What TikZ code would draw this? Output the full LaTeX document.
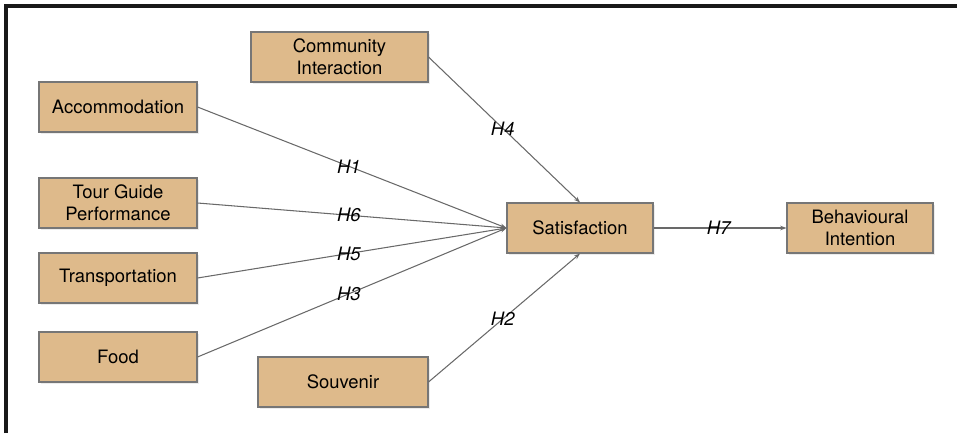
\documentclass[tikz,border=0pt]{standalone}
\usepackage{fontspec}
\setmainfont{TeX Gyre Heros}
\usepackage{tikz}
\usetikzlibrary{arrows.meta,shadows}
\definecolor{boxfill}{RGB}{222,186,139}
\definecolor{boxline}{RGB}{118,118,118}
\definecolor{linkline}{RGB}{105,105,105}

\begin{document}
\begin{tikzpicture}[x=0.02cm,y=-0.02cm,
  factor/.style={draw=boxline,fill=boxfill,line width=0.6pt,minimum height=1cm,
    align=center,font=\fontsize{10.5}{12.5}\selectfont,
    drop shadow={opacity=0.15,shadow xshift=1pt,shadow yshift=-1pt}},
  link/.style={draw=linkline,line width=0.6pt,-{Stealth[length=3.5pt,width=2.5pt]}},
  hyp/.style={pos=0.49,font=\fontsize{10.5}{12.5}\selectfont\itshape,inner sep=0pt}]
\useasboundingbox (0,0) rectangle (957,433);
\draw[line width=2.3pt,black!90] (6,433) -- (6,6) -- (957,6);
% antecedents
\node[factor,minimum width=3.54cm] (comm) at (339.5,57) {Community\\Interaction};
\node[factor,minimum width=3.16cm] (acc) at (118,107) {Accommodation};
\node[factor,minimum width=3.16cm] (tour) at (118,203) {Tour Guide\\Performance};
\node[factor,minimum width=3.16cm] (trans) at (118,278) {Transportation};
\node[factor,minimum width=3.16cm] (food) at (118,357) {Food};
\node[factor,minimum width=3.4cm] (souv) at (343,382) {Souvenir};
% outcomes
\node[factor,minimum width=2.92cm] (sat) at (580,228) {Satisfaction};
\node[factor,minimum width=2.92cm] (beh) at (860,228) {Behavioural\\Intention};
% hypotheses
\draw[link] (acc.east) -- node[hyp] (h1) {H1} (sat.west);
\draw[link] (tour.east) -- node[hyp] (h6) {H6} (sat.west);
\draw[link] (trans.east) -- node[hyp] (h5) {H5} (sat.west);
\draw[link] (food.east) -- node[hyp] (h3) {H3} (sat.west);
\draw[link] (comm.east) -- node[hyp] (h4) {H4} (sat.north);
\draw[link] (souv.east) -- node[hyp] (h2) {H2} (sat.south);
\draw[link] (sat.east) -- node[hyp] (h7) {H7} (beh.west);
\end{tikzpicture}
\end{document}
